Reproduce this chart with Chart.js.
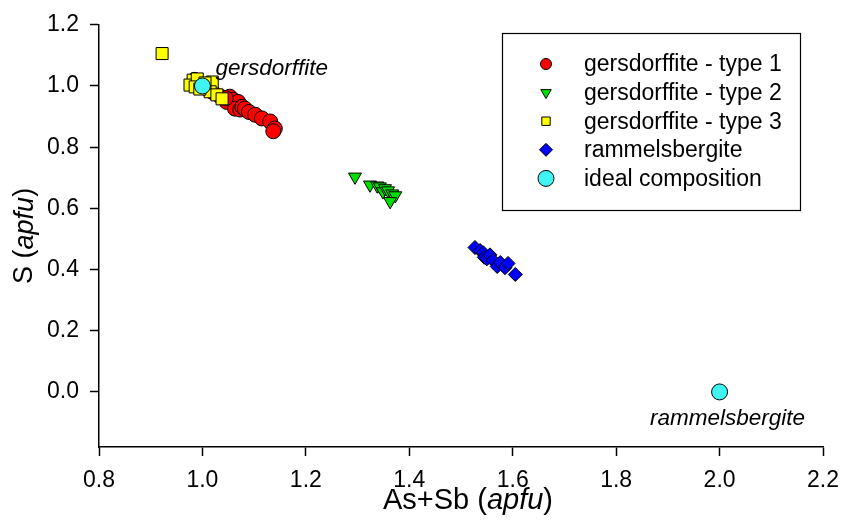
<!DOCTYPE html>
<html>
<head>
<meta charset="utf-8">
<script src="https://cdn.jsdelivr.net/npm/chart.js@4"></script>
<style>
  html, body { margin: 0; padding: 0; background: #fff; }
  #wrap { width: 856px; height: 526px; }
</style>
</head>
<body>
<div id="wrap"><canvas id="chart" width="856" height="526"></canvas></div>
<script>
// data (As+Sb apfu, S apfu)
const type1X = [0.985, 0.99, 1.01, 1.02, 1.035, 1.047, 1.053, 1.059, 1.069, 1.063, 1.073, 1.077, 1.082, 1.045, 1.09, 1.102, 1.115, 1.131, 1.140, 1.137];
const type1Y = [1.02, 1.005, 0.99, 0.98, 0.965, 0.948, 0.965, 0.955, 0.948, 0.926, 0.923, 0.932, 0.926, 0.96, 0.915, 0.906, 0.894, 0.884, 0.861, 0.852];

const type2X = [1.295, 1.324, 1.338, 1.343, 1.349, 1.353, 1.359, 1.367, 1.373, 1.363];
const type2Y = [0.703, 0.677, 0.674, 0.671, 0.655, 0.665, 0.658, 0.648, 0.642, 0.623];

const type3X = [0.922, 0.982, 0.976, 0.990, 0.986, 1.019, 1.015, 1.028, 1.038, 1.005, 0.995];
const type3Y = [1.106, 1.019, 1.003, 1.023, 0.997, 1.013, 0.981, 0.971, 0.958, 1.01, 0.99];

const rammX = [1.527, 1.537, 1.543, 1.545, 1.550, 1.556, 1.562, 1.570, 1.576, 1.585, 1.591, 1.605];
const rammY = [0.472, 0.462, 0.455, 0.44, 0.435, 0.448, 0.43, 0.41, 0.423, 0.406, 0.42, 0.384];

const idealX = [1.0, 2.0];
const idealY = [1.0, 0.0];

const seriesNames = ['gersdorffite - type 1', 'gersdorffite - type 2', 'gersdorffite - type 3', 'rammelsbergite', 'ideal composition'];
const xTicks = [0.8, 1.0, 1.2, 1.4, 1.6, 1.8, 2.0, 2.2];
const yTicks = [0.0, 0.2, 0.4, 0.6, 0.8, 1.0, 1.2];

const FONT = "'Liberation Sans', Arial, sans-serif";
Chart.defaults.font.family = FONT;
Chart.defaults.color = '#000';

function pts(xs, ys) {
  return xs.map((x, i) => ({ x: x, y: ys[i] }));
}

// marker styles, same order as seriesNames
const styles = [
  { pointStyle: 'circle', color: '#ff0000', r: 7.5, rot: 0, lr: 5.5 },
  { pointStyle: 'triangle', color: '#00e000', r: 7.5, rot: 180, lr: 6 },
  { pointStyle: 'rect', color: '#ffff00', r: 8.5, rot: 0, lr: 6 },
  { pointStyle: 'rectRot', color: '#0000ff', r: 7, rot: 0, lr: 6.5 },
  { pointStyle: 'circle', color: '#40f4f4', r: 8, rot: 0, lr: 8 }
];
const drawOrder = [4, 3, 1, 2, 0];
const allData = [pts(type1X, type1Y), pts(type2X, type2Y), pts(type3X, type3Y), pts(rammX, rammY), pts(idealX, idealY)];

const datasets = seriesNames.map((name, i) => ({
  label: name,
  data: allData[i],
  pointStyle: styles[i].pointStyle,
  pointRotation: styles[i].rot,
  pointRadius: styles[i].r,
  pointHoverRadius: styles[i].r,
  backgroundColor: styles[i].color,
  borderColor: '#000',
  borderWidth: 1,
  order: drawOrder[i]
}));

function mixedText(ctx, parts, x, y, size) {
  // parts: [text, italic?]
  let total = 0;
  parts.forEach(p => {
    ctx.font = (p[1] ? 'italic ' : '') + size + 'px ' + FONT;
    total += ctx.measureText(p[0]).width;
  });
  let cx = x - total / 2;
  parts.forEach(p => {
    ctx.font = (p[1] ? 'italic ' : '') + size + 'px ' + FONT;
    ctx.fillText(p[0], cx, y);
    cx += ctx.measureText(p[0]).width;
  });
}

function marker(ctx, s, x, y) {
  ctx.save();
  ctx.fillStyle = s.color;
  ctx.strokeStyle = '#000';
  ctx.lineWidth = 1;
  ctx.beginPath();
  const r = s.lr;
  if (s.pointStyle === 'circle') {
    ctx.arc(x, y, r, 0, Math.PI * 2);
  } else if (s.pointStyle === 'triangle') {
    ctx.moveTo(x - r * 0.87, y - r * 0.5);
    ctx.lineTo(x + r * 0.87, y - r * 0.5);
    ctx.lineTo(x, y + r);
    ctx.closePath();
  } else if (s.pointStyle === 'rect') {
    const h = r * 0.7;
    ctx.rect(x - h, y - h, 2 * h, 2 * h);
  } else {
    ctx.moveTo(x, y - r);
    ctx.lineTo(x + r, y);
    ctx.lineTo(x, y + r);
    ctx.lineTo(x - r, y);
    ctx.closePath();
  }
  ctx.fill();
  ctx.stroke();
  ctx.restore();
}

const extras = {
  id: 'extras',
  afterDraw(chart) {
    const ctx = chart.ctx;
    const xs = chart.scales.x, ys = chart.scales.y;
    ctx.save();
    ctx.fillStyle = '#000';
    ctx.textBaseline = 'middle';

    // axis titles
    mixedText(ctx, [['As+Sb (', false], ['apfu', true], [')', false]], 468, 501, 29);
    ctx.save();
    ctx.translate(25, (chart.chartArea.top + chart.chartArea.bottom) / 2);
    ctx.rotate(-Math.PI / 2);
    mixedText(ctx, [['S (', false], ['apfu', true], [')', false]], 0, 0, 27);
    ctx.restore();

    // point annotations
    ctx.textBaseline = 'alphabetic';
    ctx.font = 'italic 22.5px ' + FONT;
    ctx.textAlign = 'left';
    ctx.fillText('gersdorffite', xs.getPixelForValue(idealX[0]) + 13, ys.getPixelForValue(idealY[0]) - 11);
    ctx.textAlign = 'center';
    ctx.fillText('rammelsbergite', xs.getPixelForValue(idealX[1]) + 8, ys.getPixelForValue(idealY[1]) + 33);

    // legend box
    ctx.strokeStyle = '#000';
    ctx.lineWidth = 1.2;
    ctx.strokeRect(502.5, 33.5, 298, 177);
    ctx.textAlign = 'left';
    ctx.textBaseline = 'middle';
    ctx.font = '23px ' + FONT;
    seriesNames.forEach((name, i) => {
      const y = 64 + i * 28.6;
      marker(ctx, styles[i], 546, y);
      ctx.fillStyle = '#000';
      ctx.fillText(name, 584, y + 1);
    });
    ctx.restore();
  }
};

new Chart(document.getElementById('chart'), {
  type: 'scatter',
  data: { datasets: datasets },
  options: {
    responsive: false,
    animation: false,
    events: [],
    layout: { padding: { left: 0, top: 19, right: 33, bottom: 0 } },
    plugins: { legend: { display: false }, tooltip: { enabled: false } },
    scales: {
      x: {
        type: 'linear',
        min: 0.8,
        max: 2.2,
        afterFit: s => { s.height = 79; },
        afterBuildTicks: s => { s.ticks = xTicks.map(v => ({ value: v })); },
        ticks: { font: { size: 23 }, color: '#000', padding: 11, maxRotation: 0, callback: v => v.toFixed(1) },
        grid: { drawOnChartArea: false, tickLength: 9, color: '#000', tickWidth: 1.5 },
        border: { color: '#000', width: 1.5 }
      },
      y: {
        type: 'linear',
        min: -0.18,
        max: 1.2,
        afterFit: s => { s.width = 99; },
        afterBuildTicks: s => { s.ticks = yTicks.map(v => ({ value: v })); },
        ticks: { font: { size: 23 }, color: '#000', padding: 11, callback: v => v.toFixed(1) },
        grid: { drawOnChartArea: false, tickLength: 9, color: '#000', tickWidth: 1.5 },
        border: { color: '#000', width: 1.5 }
      }
    }
  },
  plugins: [extras]
});
</script>
</body>
</html>
